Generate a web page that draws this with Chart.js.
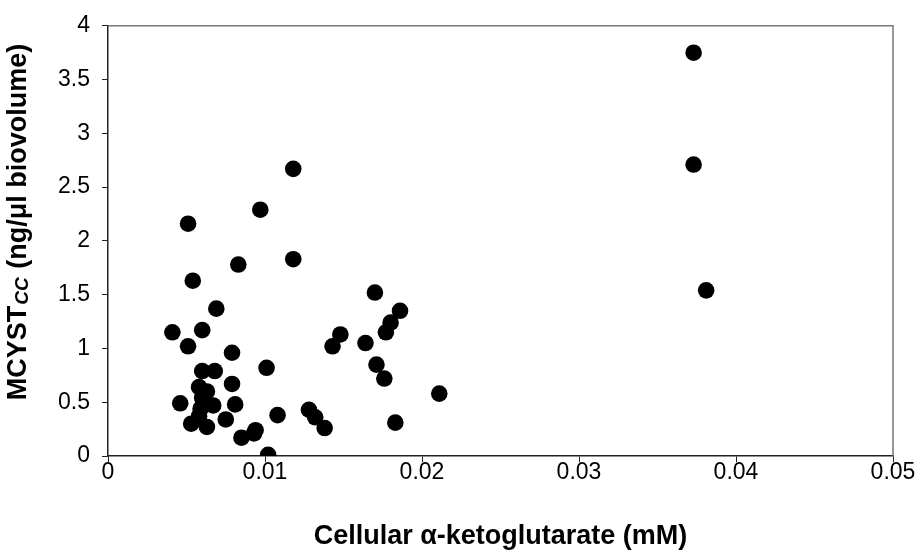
<!DOCTYPE html>
<html>
<head>
<meta charset="utf-8">
<script src="https://cdn.jsdelivr.net/npm/chart.js@4/dist/chart.umd.min.js"></script>
<style>
html,body{margin:0;padding:0;background:#fff;}
#wrap{width:923px;height:554px;position:relative;}
</style>
</head>
<body>
<div id="wrap"><canvas id="c" width="923" height="554"></canvas></div>
<script>
const xValues = [0.0373,0.0373,0.0381,0.0051,0.0097,0.0118,0.0083,0.0054,0.0069,0.0041,0.0060,0.0051,0.0079,0.0101,0.0060,0.0068,0.0079,0.0058,0.0063,0.0060,0.0067,0.0059,0.0046,0.0081,0.0058,0.0053,0.0063,0.0075,0.0108,0.0094,0.0093,0.0085,0.0102,0.0118,0.0170,0.0186,0.0180,0.0177,0.0148,0.0143,0.0164,0.0171,0.0176,0.0211,0.0183,0.0128,0.0132,0.0138];
const yValues = [3.75,2.71,1.54,2.16,2.29,1.83,1.78,1.63,1.37,1.15,1.17,1.02,0.96,0.82,0.79,0.79,0.67,0.64,0.60,0.54,0.47,0.44,0.49,0.48,0.37,0.30,0.27,0.34,0.38,0.24,0.21,0.17,0.01,2.67,1.52,1.35,1.24,1.15,1.13,1.02,1.05,0.85,0.72,0.58,0.31,0.43,0.36,0.26];
const xTickLabels = ['0','0.01','0.02','0.03','0.04','0.05'];
const yTickLabels = ['0','0.5','1','1.5','2','2.5','3','3.5','4'];
const xTitle = 'Cellular \u03b1-ketoglutarate (mM)';
const yTitleParts = ['MCYST', 'CC', ' (ng/\u03bcl biovolume)'];

const points = xValues.map((x, i) => ({x: x, y: yValues[i]}));

const FONT = "'Liberation Sans', Arial, sans-serif";

const framePlugin = {
  id: 'frame',
  afterDatasetsDraw(chart) {
    const a = chart.chartArea, ctx = chart.ctx;
    ctx.save();
    ctx.strokeStyle = '#777';
    ctx.lineWidth = 1.5;
    ctx.beginPath();
    ctx.moveTo(a.left, a.top);
    ctx.lineTo(a.right, a.top);
    ctx.lineTo(a.right, a.bottom);
    ctx.stroke();
    ctx.restore();
  },
  afterDraw(chart) {
    // y axis title with subscript
    const a = chart.chartArea, ctx = chart.ctx;
    const big = "bold 27px " + FONT, small = "bold italic 19px " + FONT;
    ctx.save();
    ctx.font = big;
    const w0 = ctx.measureText(yTitleParts[0]).width;
    const w2 = ctx.measureText(yTitleParts[2]).width;
    ctx.font = small;
    const w1 = ctx.measureText(yTitleParts[1]).width + 2;
    const total = w0 + w1 + w2;
    ctx.translate(19, 222);
    ctx.rotate(-Math.PI / 2);
    ctx.fillStyle = '#000';
    ctx.textBaseline = 'middle';
    ctx.textAlign = 'left';
    let x = -total / 2;
    ctx.font = big;
    ctx.fillText(yTitleParts[0], x, 0);
    x += w0 + 1;
    ctx.font = small;
    ctx.fillText(yTitleParts[1], x, 4);
    x += w1 - 1;
    ctx.font = big;
    ctx.fillText(yTitleParts[2], x, 0);
    ctx.restore();
  }
};

new Chart(document.getElementById('c'), {
  type: 'scatter',
  data: {
    datasets: [{
      data: points,
      backgroundColor: '#000',
      borderColor: '#000',
      pointRadius: 8.3,
      pointHoverRadius: 8.3,
      borderWidth: 0
    }]
  },
  options: {
    responsive: false,
    animation: false,
    layout: {padding: {top: 20, right: 30, left: 0, bottom: 0}},
    plugins: {legend: {display: false}, tooltip: {enabled: false}},
    scales: {
      x: {
        type: 'linear', min: 0, max: 0.05,
        afterFit(s) { s.height = 98; },
        afterBuildTicks(s) { s.ticks = xTickLabels.map((t, i) => ({value: i * 0.01})); },
        ticks: {
          color: '#000', font: {family: FONT, size: 23}, padding: -3,
          maxRotation: 0, autoSkip: false,
          callback: (v, i) => xTickLabels[i]
        },
        grid: {drawOnChartArea: false, drawTicks: true, tickLength: 6, color: '#222', lineWidth: 1},
        border: {display: true, color: '#222', width: 1.5},
        title: {display: true, text: xTitle, color: '#000', font: {family: FONT, size: 27, weight: 'bold'}, padding: {top: 0, bottom: 1}}
      },
      y: {
        type: 'linear', min: 0, max: 4,
        afterFit(s) { s.width = 108; },
        afterBuildTicks(s) { s.ticks = yTickLabels.map((t, i) => ({value: i * 0.5})); },
        ticks: {
          color: '#000', font: {family: FONT, size: 23}, padding: 12,
          autoSkip: false,
          callback: (v, i) => yTickLabels[i]
        },
        grid: {drawOnChartArea: false, drawTicks: true, tickLength: 6, color: '#222', lineWidth: 1},
        border: {display: true, color: '#222', width: 1.5},
        title: {display: false}
      }
    }
  },
  plugins: [framePlugin]
});
</script>
</body>
</html>
